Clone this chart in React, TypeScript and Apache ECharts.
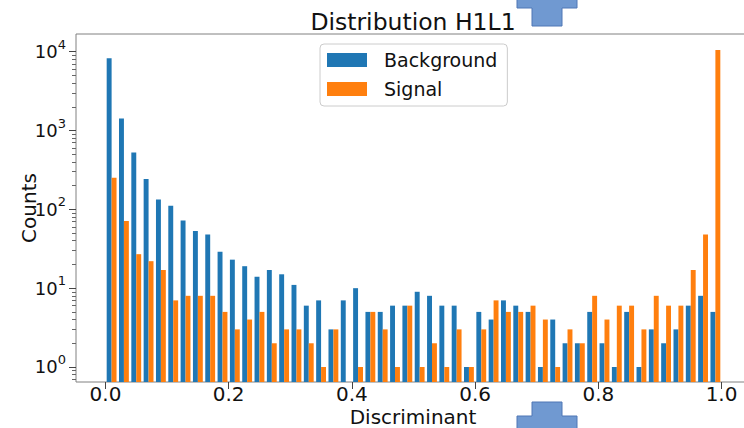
import { useEffect, useRef } from "react";
import * as echarts from "echarts";

// Histogram of the discriminant output, 50 equal bins on [0, 1]
const BIN_COUNT = 50;
const RANGE_MIN = 0;
const RANGE_MAX = 1;

// Counts per bin
const BACKGROUND = [
  8250, 1425, 527, 242, 133, 111, 72, 53, 48, 29,
  23, 19, 14, 17, 15, 11, 6, 7, 3, 7,
  10, 5, 5, 6, 6, 9, 8, 6, 6, 1,
  5, 4, 7, 6, 5, 1, 4, 2, 2, 5,
  2, 1, 5, 1, 3, 2, 3, 6, 8, 5,
];
const SIGNAL = [
  251, 71, 27, 22, 17, 7, 8, 8, 8, 5,
  3, 4, 5, 2, 3, 3, 2, 1, 3, 0,
  1, 5, 3, 1, 6, 1, 2, 1, 3, 1,
  3, 7, 5, 5, 6, 4, 1, 3, 2, 8,
  4, 6, 6, 3, 8, 6, 6, 17, 48, 10500,
];

const SERIES_NAMES = ["Background", "Signal"];
const SERIES_COLORS = ["#1f77b4", "#ff7f0e"];

// Axis ticks
const X_TICKS = [0.0, 0.2, 0.4, 0.6, 0.8, 1.0];
const Y_DECADES = [0, 1, 2, 3, 4]; // labelled powers of ten
const Y_MIN_COUNT = 0.645;
const Y_MAX_COUNT = 16780;
const X_MIN = -0.0478;
const X_MAX = 1.0478;

const FONT = "DejaVu Sans";

const LOG_MIN = Math.log10(Y_MIN_COUNT);
const LOG_MAX = Math.log10(Y_MAX_COUNT);

// minor ticks at 2..9 x 10^k, in log10 space
const MINOR_TICKS: number[] = [];
for (let d = -1; d <= 4; d++) {
  for (let m = 2; m <= 9; m++) {
    const v = Math.log10(m * Math.pow(10, d));
    if (v > LOG_MIN && v < LOG_MAX) MINOR_TICKS.push(v);
  }
}

// side-by-side bars: each dataset takes 40% of the bin, together 80%
function barData(counts: number[], offset: number) {
  const w = (RANGE_MAX - RANGE_MIN) / BIN_COUNT;
  const out: number[][] = [];
  counts.forEach((c, i) => {
    if (c <= 0) return;
    const left = RANGE_MIN + i * w;
    out.push([left + offset * w, left + (offset + 0.4) * w, Math.log10(c)]);
  });
  return out;
}

function makeSeries(name: string, color: string, data: number[][]) {
  return {
    name,
    type: "custom",
    xAxisIndex: 0,
    yAxisIndex: 0,
    clip: true,
    itemStyle: { color },
    encode: { x: [0, 1], y: 2 },
    data,
    renderItem: (_params: any, api: any) => {
      const top = api.coord([api.value(0), api.value(2)]);
      const bottom = api.coord([api.value(1), LOG_MIN]);
      return {
        type: "rect",
        shape: {
          x: top[0],
          y: top[1],
          width: bottom[0] - top[0],
          height: bottom[1] - top[1],
        },
        style: { fill: color },
      };
    },
  };
}

// blue cross shapes at the top and bottom edges
const CROSS_FILL = "#7099d1";
const CROSS_STROKE = "#4f77b5";

export default function App() {
  const ref = useRef<HTMLDivElement>(null);

  useEffect(() => {
    if (!ref.current) return;
    const chart = echarts.init(ref.current, null, { renderer: "svg" });

    const option: any = {
      animation: false,
      backgroundColor: "#ffffff",
      textStyle: { fontFamily: FONT },
      grid: {
        left: 76,
        right: -7,
        top: 34,
        bottom: 46,
        show: true,
        borderColor: "#808080",
        borderWidth: 1,
        outerBoundsMode: "none",
      },
      xAxis: {
        type: "value",
        min: X_MIN,
        max: X_MAX,
        axisLine: { show: false, onZero: false },
        splitLine: { show: false },
        axisTick: {
          show: true,
          length: 7,
          customValues: X_TICKS,
          lineStyle: { color: "#444" },
        },
        axisLabel: {
          customValues: X_TICKS,
          margin: 2,
          fontSize: 20,
          fontFamily: FONT,
          color: "#111",
          formatter: (v: number) => v.toFixed(1),
        },
      },
      yAxis: [
        {
          type: "value",
          min: LOG_MIN,
          max: LOG_MAX,
          axisLine: { show: false, onZero: false },
          splitLine: { show: false },
          axisTick: {
            show: true,
            length: 7,
            customValues: Y_DECADES,
            lineStyle: { color: "#444" },
          },
          axisLabel: {
            customValues: Y_DECADES,
            margin: 10,
            color: "#111",
            formatter: (v: number) => `{b|10}{e|${Math.round(v)}}`,
            rich: {
              b: { fontSize: 18, fontFamily: FONT, lineHeight: 28, color: "#111" },
              e: { fontSize: 13, fontFamily: FONT, lineHeight: 14, verticalAlign: "top", color: "#111" },
            },
          },
        },
        {
          type: "value",
          min: LOG_MIN,
          max: LOG_MAX,
          position: "left",
          axisLine: { show: false, onZero: false },
          splitLine: { show: false },
          axisTick: {
            show: true,
            length: 4,
            customValues: MINOR_TICKS,
            lineStyle: { color: "#666" },
          },
          axisLabel: { show: false, customValues: MINOR_TICKS },
        },
      ],
      legend: {
        data: SERIES_NAMES,
        orient: "vertical",
        left: 320,
        top: 44,
        icon: "rect",
        itemWidth: 40,
        itemHeight: 14,
        itemGap: 9,
        padding: [6, 10, 7, 7],
        borderColor: "#cccccc",
        borderWidth: 1,
        borderRadius: 4,
        backgroundColor: "rgba(255,255,255,0.8)",
        textStyle: {
          fontSize: 19,
          fontFamily: FONT,
          color: "#111",
          lineHeight: 20,
          padding: [0, 0, 0, 12],
        },
      },
      series: [
        makeSeries(SERIES_NAMES[0], SERIES_COLORS[0], barData(BACKGROUND, 0.1)),
        makeSeries(SERIES_NAMES[1], SERIES_COLORS[1], barData(SIGNAL, 0.5)),
      ],
      graphic: [
        {
          type: "text",
          x: 413,
          y: 22,
          style: {
            text: "Distribution H1L1",
            fontSize: 23.5,
            fontFamily: FONT,
            fill: "#111",
            textAlign: "center",
            textVerticalAlign: "middle",
          },
        },
        {
          type: "text",
          x: 413,
          y: 417,
          style: {
            text: "Discriminant",
            fontSize: 20,
            fontFamily: FONT,
            fill: "#111",
            textAlign: "center",
            textVerticalAlign: "middle",
          },
        },
        {
          type: "text",
          x: 29,
          y: 208,
          rotation: Math.PI / 2,
          style: {
            text: "Counts",
            fontSize: 20,
            fontFamily: FONT,
            fill: "#111",
            textAlign: "center",
            textVerticalAlign: "middle",
          },
        },
        {
          type: "polygon",
          shape: {
            points: [
              [517, -1], [577, -1], [577, 8], [562, 8],
              [562, 26], [532, 26], [532, 8], [517, 8],
            ],
          },
          style: { fill: CROSS_FILL, stroke: CROSS_STROKE, lineWidth: 1 },
          z: 100,
        },
        {
          type: "polygon",
          shape: {
            points: [
              [532, 402], [562, 402], [562, 416], [577, 416],
              [577, 429], [517, 429], [517, 416], [532, 416],
            ],
          },
          style: { fill: CROSS_FILL, stroke: CROSS_STROKE, lineWidth: 1 },
          z: 100,
        },
      ],
    };

    chart.setOption(option);
    return () => chart.dispose();
  }, []);

  return (
    <div
      ref={ref}
      style={{ position: "fixed", left: 0, top: 0, width: 744, height: 428 }}
    />
  );
}
